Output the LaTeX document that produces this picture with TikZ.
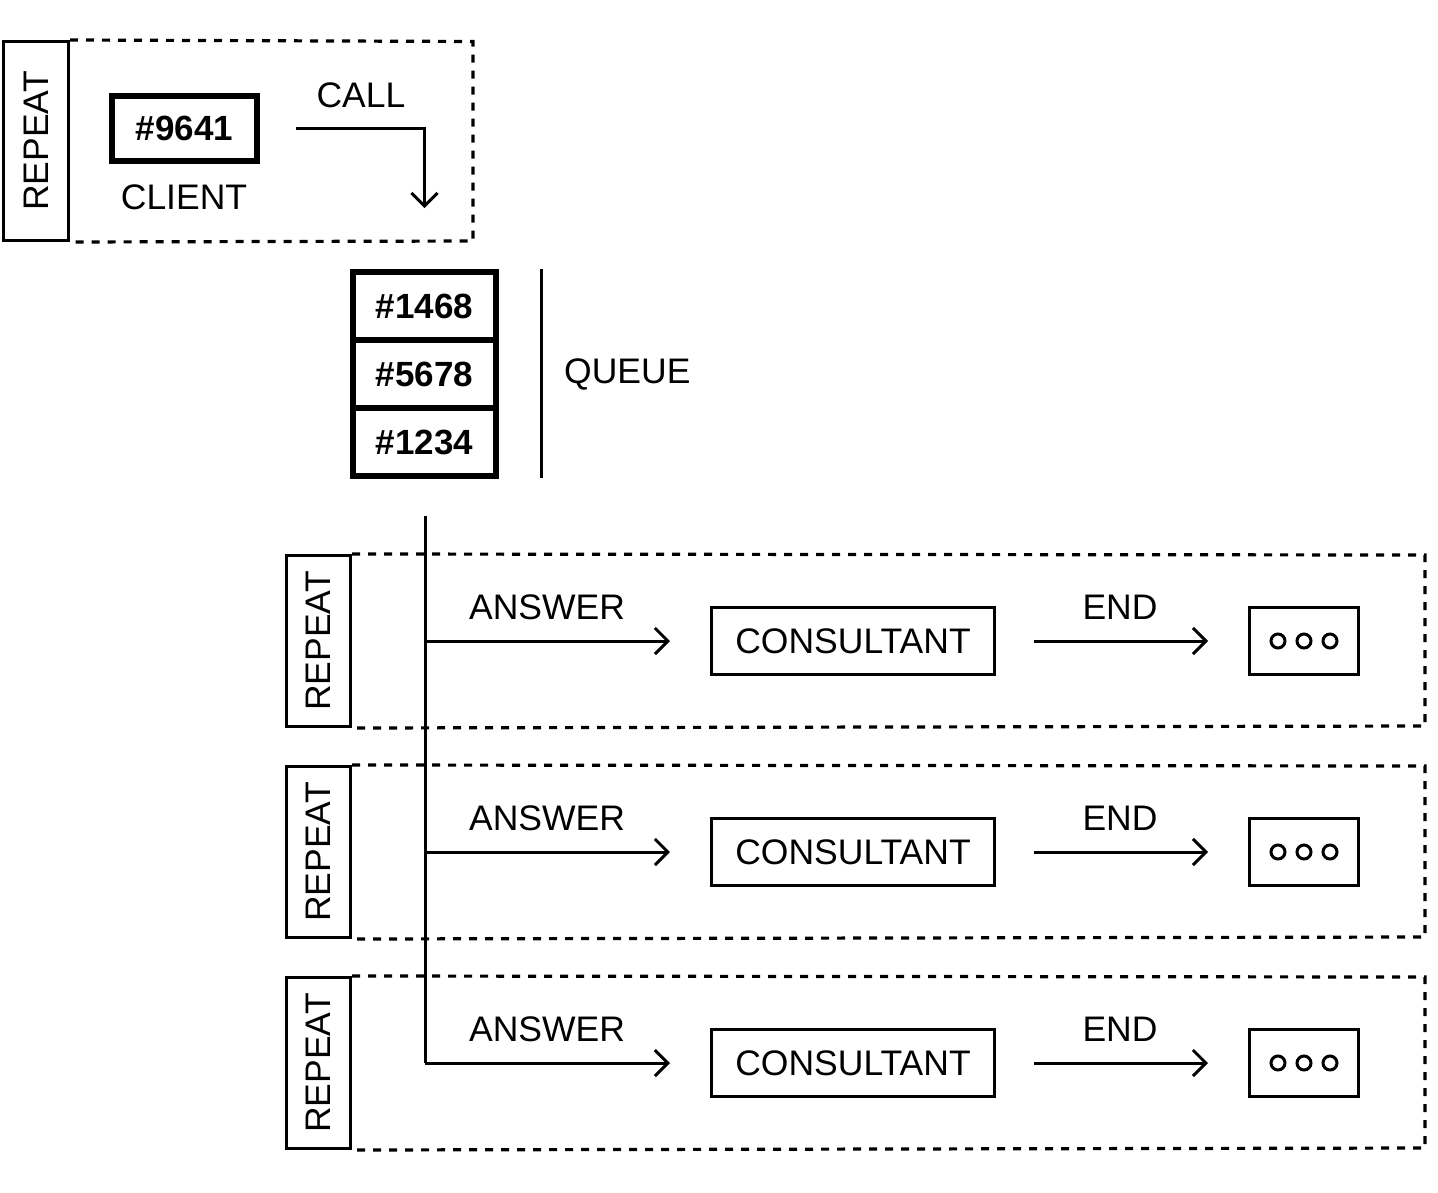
\documentclass[tikz,border=0pt]{standalone}
\usepackage{fontspec}
\setmainfont{Liberation Sans}
\usetikzlibrary{arrows.meta}
\begin{document}
\begin{tikzpicture}[x=1pt,y=-1pt,
  lw/.style={line width=3pt},
  txt/.style={font=\fontsize{35.5}{40}\selectfont, inner sep=0pt},
  thickbox/.style={draw, line width=6pt, minimum width=145pt, minimum height=65pt, inner sep=0pt, font=\fontsize{35}{40}\selectfont\bfseries},
  qbox/.style={draw, line width=6pt, minimum width=143pt, minimum height=68pt, inner sep=0pt, font=\fontsize{35}{40}\selectfont\bfseries},
  repbox/.style={draw, line width=3pt, inner sep=0pt},
  consbox/.style={draw, line width=3pt, minimum width=283pt, minimum height=67pt, inner sep=0pt, font=\fontsize{35.5}{40}\selectfont},
  dotsbox/.style={draw, line width=3pt, minimum width=109pt, minimum height=67pt, inner sep=0pt},
  dot/.style={draw, circle, line width=3pt, minimum size=14pt, inner sep=0pt},
  frame/.style={line width=3.2pt, dash pattern=on 8pt off 8pt},
  arr/.style={line width=3pt, -{Straight Barb[length=13pt,width=26pt,line width=3pt]}},
]
\useasboundingbox (0,0) rectangle (1438,1192);

% top block
\node[repbox, minimum width=65pt, minimum height=199pt] (rep0) at (36,141) {};
\node[txt, rotate=90] (rep0t) at (rep0.center) {REPEAT};
\draw[frame] (rep0.north east) -- (473,41.5) -- (473,241) -- (rep0.south east);
\node[thickbox] (client) at (184.5,128.5) {\#9641};
\node[txt] (clientlbl) at (184,197) {CLIENT};
\node[txt] (calllbl) at (361,95) {CALL};

% queue
\node[qbox] (q1) at (424.5,306) {\#1468};
\node[qbox] (q2) at (424.5,374) {\#5678};
\node[qbox] (q3) at (424.5,442) {\#1234};
\draw[lw] (541,269) -- (541,478);
\node[txt, anchor=west] (queuelbl) at (564,374) {QUEUE};

\draw[arr, shorten <=36pt, shorten >=61pt] (client.east) -| (q1.north);

% trunk
\coordinate (trunktop) at (425,516);
\coordinate (t1) at (425,641);
\coordinate (t2) at (425,852);
\coordinate (t3) at (425,1063);
\draw[lw] (trunktop) -- (t3);

\foreach \i/\y in {1/641, 2/852, 3/1063}{
  \node[repbox, minimum width=64pt, minimum height=171pt] (rep\i) at (318.5,\y) {};
  \node[txt, rotate=90] (rep\i t) at (rep\i.center) {REPEAT};
  \draw[frame] (rep\i.north east) -- (1425,\y-86) -- (1425,\y+85) -- (rep\i.south east);
  \node[consbox] (cons\i) at (853,\y) {CONSULTANT};
  \node[dotsbox] (dots\i) at (1304,\y) {};
  \node[dot] (da\i) at (1278,\y) {};
  \node[dot] (db\i) at (1304,\y) {};
  \node[dot] (dc\i) at (1330,\y) {};
  \draw[arr, shorten >=40pt] (t\i) -- (cons\i.west);
  \node[txt] (ans\i) at (547,\y-34) {ANSWER};
  \draw[arr, shorten <=38pt, shorten >=40pt] (cons\i.east) -- (dots\i.west);
  \node[txt] (end\i) at (1120,\y-34) {END};
}
\end{tikzpicture}
\end{document}
